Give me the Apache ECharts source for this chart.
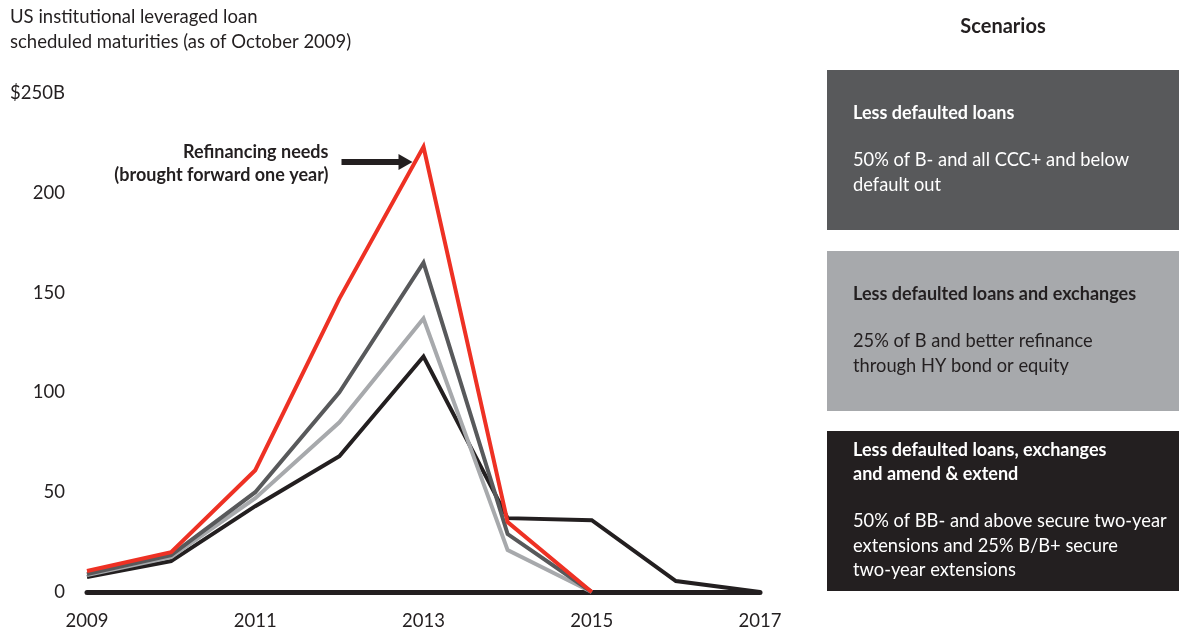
<!DOCTYPE html>
<html>
<head>
<meta charset="utf-8">
<script src="https://cdn.jsdelivr.net/npm/echarts@6/dist/echarts.min.js"></script>
<style>
  html, body { margin: 0; padding: 0; background: #fff; }
  #main { width: 1179px; height: 635px; }
</style>
</head>
<body>
<div id="main"></div>
<script>
// data ($B)
var years = ['2009', '2010', '2011', '2012', '2013', '2014', '2015', '2016', '2017'];
var lessDefaulted = [10.5, 20, 61, 147, 223, 35, 0, null, null];          // red
var lessDefaultedExch = [9, 18.5, 50, 100, 165, 29, 0, null, null];        // dark gray
var lessDefaultedExch2 = [8.5, 17.5, 47, 85, 137, 21, 0, null, null];      // light gray
var amendExtend = [7.5, 15.5, 43, 68, 118, 37, 36, 5.5, 0];               // black
var yTicks = [0, 50, 100, 150, 200, 250];

var FONT = 'Lato, "Noto Sans", sans-serif';
var RED = '#ee3124', DARK = '#58595b', LIGHT = '#a7a9ac', BLACK = '#231f20';

var myChart = echarts.init(document.getElementById('main'));

function line(name, data, color, z) {
    return {
        name: name,
        type: 'line',
        data: data,
        symbol: 'none',
        z: z,
        lineStyle: { color: color, width: 4, join: 'miter' },
        animation: false
    };
}

// scenario boxes on the right
var boxes = [
    { top: 70, fill: DARK, color: '#fff', title: ['Less defaulted loans'],
      body: ['50% of B- and all CCC+ and below', 'default out'] },
    { top: 251, fill: LIGHT, color: BLACK, title: ['Less defaulted loans and exchanges'],
      body: ['25% of B and better refinance', 'through HY bond or equity'] },
    { top: 431, fill: BLACK, color: '#fff', title: ['Less defaulted loans, exchanges', 'and amend & extend'],
      body: ['50% of BB- and above secure two-year', 'extensions and 25% B/B+ secure', 'two-year extensions'] }
];
var graphics = [
    { type: 'text', left: 10, top: 5, style: { text: 'US institutional leveraged loan\nscheduled maturities (as of October 2009)',
        font: '18.5px ' + FONT, fill: BLACK, lineHeight: 25 } },
    { type: 'text', x: 1003, y: 27, style: { text: 'Scenarios', font: 'bold 20px ' + FONT, fill: BLACK,
        textAlign: 'center', textVerticalAlign: 'middle' } }
];
boxes.forEach(function (b) {
    graphics.push({ type: 'rect', shape: { x: 827, y: b.top, width: 352, height: 160 }, style: { fill: b.fill } });
    var y = b.top + (b.title.length > 1 ? 7 : 31);
    graphics.push({ type: 'text', x: 853, y: y, style: { text: b.title.join('\n'), font: 'bold 18px ' + FONT,
        fill: b.color, lineHeight: 24 } });
    y += b.title.length * 24 + 24;
    graphics.push({ type: 'text', x: 853, y: y - 1, style: { text: b.body.join('\n'), font: '18.3px ' + FONT,
        fill: b.color, lineHeight: 24.5 } });
});

myChart.setOption({
    animation: false,
    grid: { left: 87, right: 419, top: 93, bottom: 43 },
    xAxis: {
        type: 'category',
        data: years,
        boundaryGap: false,
        axisLine: { show: true, lineStyle: { color: BLACK, width: 5 } },
        axisTick: { show: false },
        axisLabel: {
            margin: 20,
            color: BLACK,
            fontFamily: FONT,
            fontSize: 18.5,
            interval: 0,
            formatter: function (v, i) { return i % 2 === 0 ? v : ''; }
        },
        splitLine: { show: false }
    },
    yAxis: {
        type: 'value',
        min: 0,
        max: 250,
        interval: 50,
        axisLine: { show: false },
        axisTick: { show: false },
        splitLine: { show: false },
        axisLabel: {
            margin: 22,
            color: BLACK,
            fontFamily: FONT,
            fontSize: 18.5,
            formatter: function (v) { return v === 250 ? '$250B' : v; }
        }
    },
    series: [
        line('Less defaulted loans, exchanges and amend & extend', amendExtend, BLACK, 3),
        line('Less defaulted loans and exchanges', lessDefaultedExch2, LIGHT, 4),
        line('Less defaulted loans (dark)', lessDefaultedExch, DARK, 5),
        line('Refinancing needs', lessDefaulted, RED, 6)
    ],
    graphic: graphics
});

// annotation arrow pointing at the refinancing peak
var peak = myChart.convertToPixel({ seriesIndex: 3 }, ['2013', lessDefaulted[4]]);
var ay = peak[1] + 15;
graphics.push(
    { type: 'rect', shape: { x: peak[0] - 82, y: ay - 3, width: 60, height: 6 }, style: { fill: BLACK } },
    { type: 'polygon', shape: { points: [[peak[0] - 25, ay - 8], [peak[0] - 11, ay], [peak[0] - 25, ay + 8]] }, style: { fill: BLACK } },
    { type: 'text', x: peak[0] - 95, y: ay + 2, style: { text: 'Refinancing needs\n(brought forward one year)',
        font: 'bold 18px ' + FONT, fill: BLACK, textAlign: 'right', textVerticalAlign: 'middle', lineHeight: 23 } }
);
myChart.setOption({ graphic: graphics });
</script>
</body>
</html>
